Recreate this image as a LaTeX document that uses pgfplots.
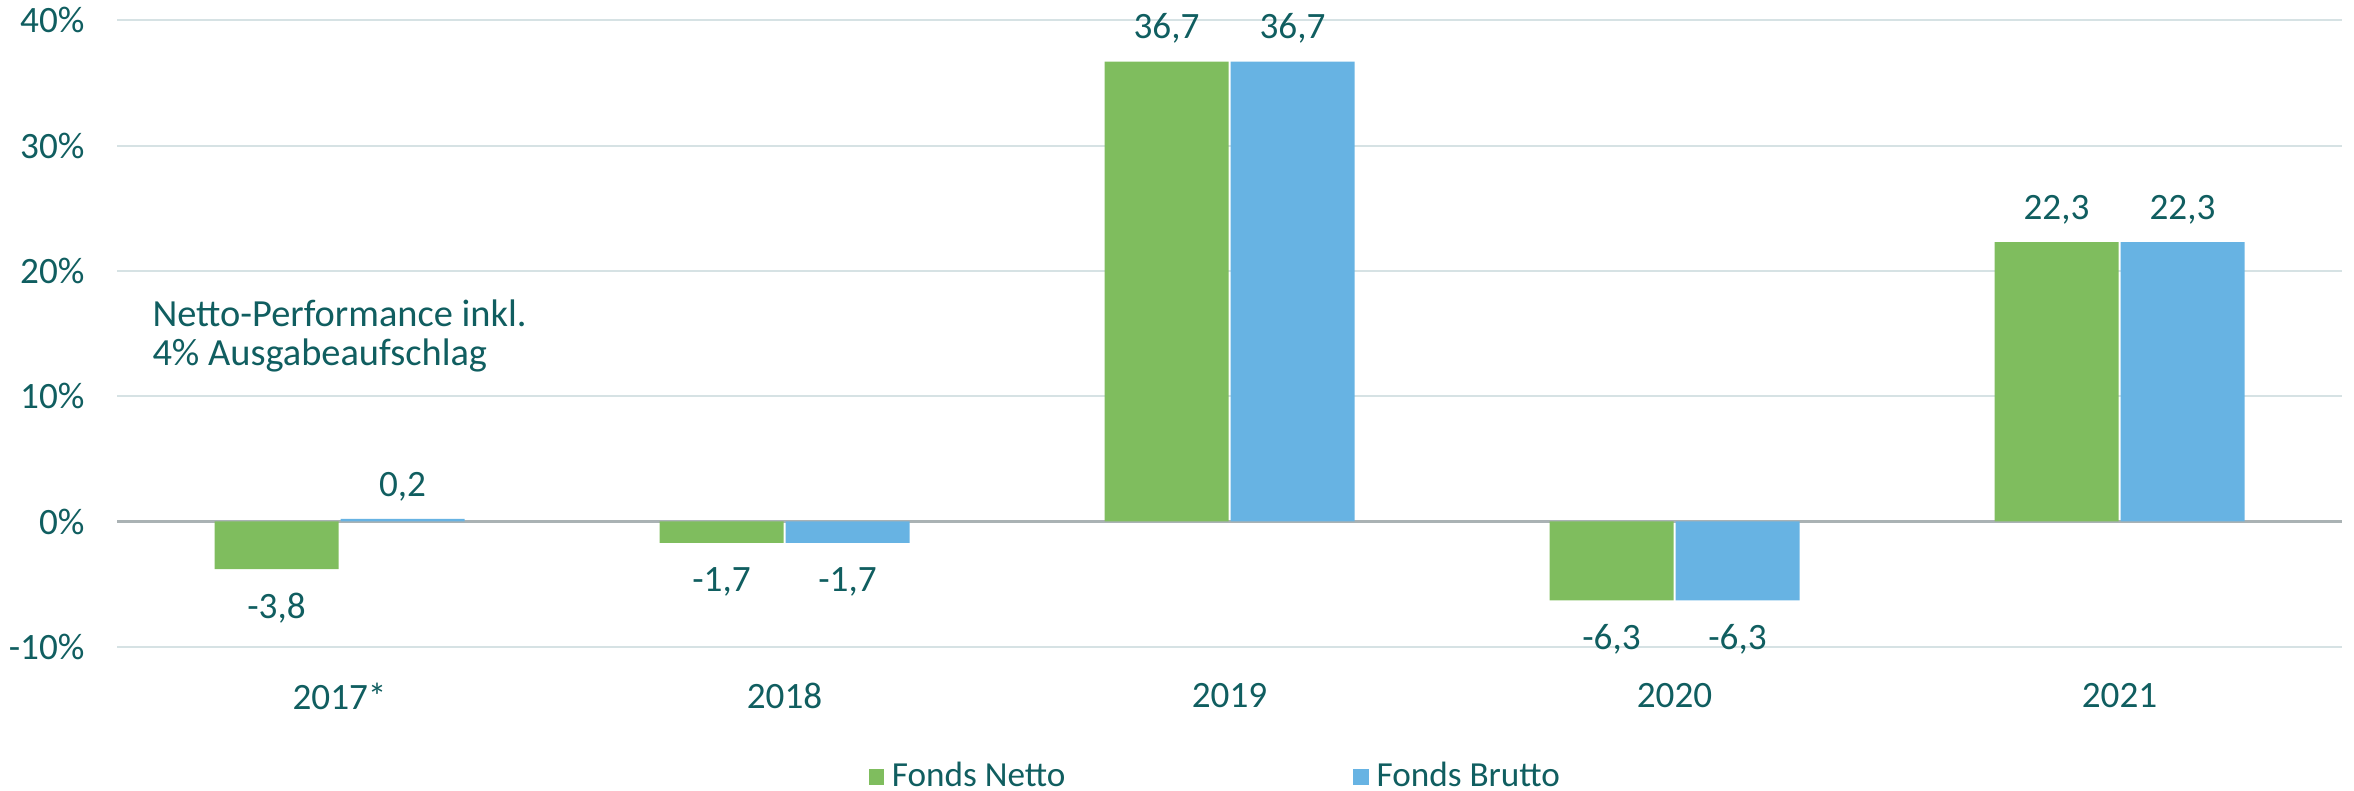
\documentclass[border=0pt]{standalone}
\usepackage{fontspec}
\setmainfont{Carlito}
\usepackage{pgfplots}
\pgfplotsset{compat=1.18}
\usetikzlibrary{calc}
\definecolor{txt}{RGB}{16,94,96}
\definecolor{netto}{RGB}{127,189,94}
\definecolor{brutto}{RGB}{103,179,227}
\definecolor{gridc}{RGB}{214,226,228}
\definecolor{zeroc}{RGB}{170,178,180}
\begin{document}
\begin{tikzpicture}
\begin{axis}[name=ax, at={(0,0)}, anchor=south west,
 scale only axis, width=556.25pt, height=156.6pt,
 ybar=0.5pt, bar width=31pt,
 xmin=-0.5, xmax=4.5, ymin=-10, ymax=40,
 xtick={0,...,4}, xticklabels={2017*,2018,2019,2020,2021},
 ytick={-10,0,...,40},
 yticklabel={\pgfmathprintnumber{\tick}\%},
 /pgf/number format/assume math mode=true,
 axis line style={draw=none}, major tick length=0pt,
 ymajorgrids, grid style={gridc, line width=0.5pt},
 extra y ticks={0}, extra y tick labels={},
 extra y tick style={grid style={zeroc, line width=0.6pt}},
 tick label style={font=\fontsize{9.3}{11}\selectfont, text=txt},
 yticklabel style={xshift=-4.6pt},
 xticklabel style={yshift=-5.5pt},
 visualization depends on={rawy \as \rawy},
 nodes near coords={\pgfmathprintnumber[use comma,fixed,fixed zerofill,precision=1]{\pgfplotspointmeta}},
 nodes near coords align={vertical},
 every node near coord/.append style={font=\fontsize{9.3}{11}\selectfont, text=txt, inner sep=4.3pt,
   yshift={-1.6*(\rawy<0)}},
 legend columns=2,
 legend style={at={(0.495,-0.208)}, anchor=center, draw=none, fill=none,
   font=\fontsize{8.8}{10}\selectfont, text=txt,
   /tikz/every even column/.append style={column sep=70pt}},
 legend image code/.code={\fill[#1] (0pt,-1.9pt) rectangle (3.8pt,1.9pt);},
]
\addplot[fill=netto, draw=none] coordinates {(0,-3.8) (1,-1.7) (2,36.7) (3,-6.3) (4,22.3)};
\addplot[fill=brutto, draw=none] coordinates {(0,0.2) (1,-1.7) (2,36.7) (3,-6.3) (4,22.3)};
\legend{Fonds Netto, Fonds Brutto}
\node[anchor=west, align=left, inner sep=0pt, text=txt, font=\fontsize{9.6}{9.8}\selectfont] at (axis cs:-0.422,14.79) {Netto-Performance inkl.\\4\% Ausgabeaufschlag};
\end{axis}
\pgfresetboundingbox
\path ($(ax.south west)+(-29.25pt,-36pt)$) rectangle ($(ax.north east)+(3pt,5.1pt)$);
\end{tikzpicture}
\end{document}
